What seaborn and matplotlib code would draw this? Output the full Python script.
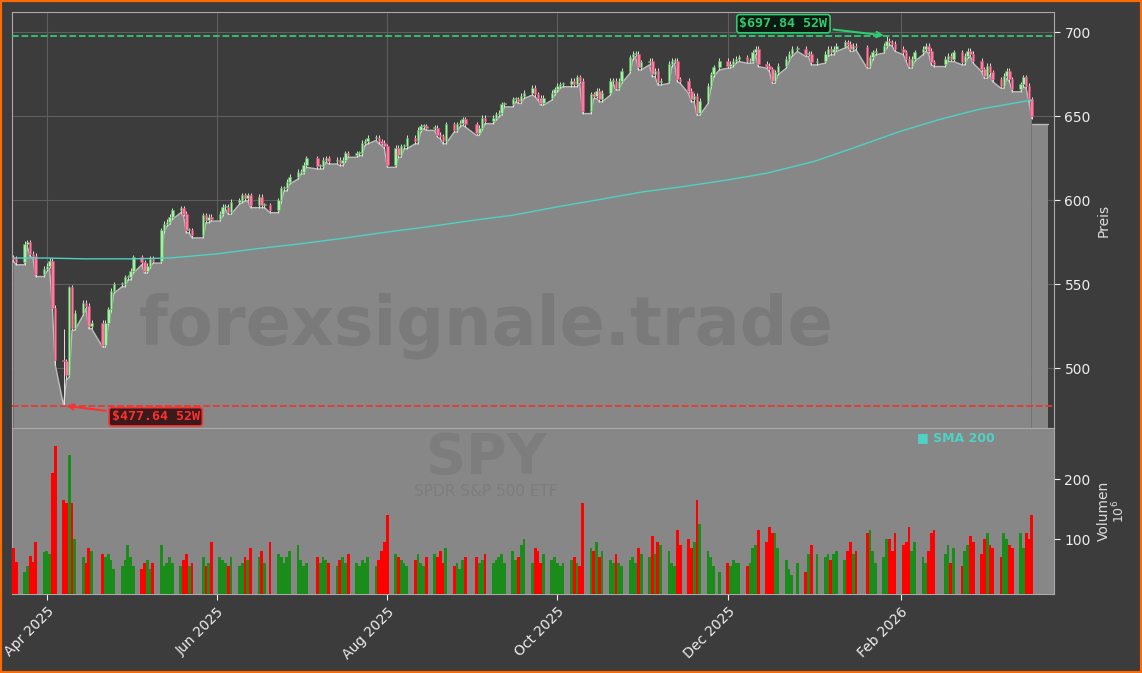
import numpy as np
import pandas as pd
import matplotlib
matplotlib.use("Agg")
import matplotlib.pyplot as plt
import matplotlib.dates as mdates
import seaborn as sns

# ---------------- data ----------------
holidays = ["2025-04-18", "2025-05-26", "2025-06-19", "2025-07-04", "2025-09-01",
            "2025-11-27", "2025-12-25", "2026-01-01", "2026-01-19", "2026-02-16"]
closes = [
    565, 563, 574, 575, 568, 567, 556, 559,
    561, 564, 536, 505, 504, 496, 548, 524, 533, 539, 537, 525, 527, 514, 527, 535, 546, 550, 550, 554, 554,
    558, 566, 563, 558, 561, 565, 564, 582, 586, 587, 590, 594, 595, 592, 582, 582, 579, 591, 588, 590, 589,
    592, 596, 596, 593, 599, 600, 603, 601, 603, 597, 602, 597, 597, 594, 600, 607, 607, 611, 614, 617,
    617, 621, 625, 620, 620, 624, 625, 623, 624, 622, 624, 628, 627, 628, 628, 634, 635, 637, 637, 635, 634, 632,
    621, 631, 627, 632, 632, 637, 635, 642, 644, 644, 643, 643, 639, 638, 635, 645, 642, 645, 646, 648, 645,
    640, 643, 649, 647, 649, 651, 652, 657, 657, 660, 660, 659, 662, 664, 667, 663, 661, 658, 661, 664, 666,
    668, 669, 669, 671, 669, 673, 671, 653, 663, 662, 665, 660, 664, 671, 671, 667, 671, 677, 685, 687, 687, 679, 682,
    683, 675, 677, 670, 671, 681, 683, 683, 672, 671, 665, 660, 662, 652, 659, 668, 675, 679, 683,
    680, 681, 683, 684, 685, 683, 683, 688, 690, 681, 680, 678, 671, 676, 680, 684, 687, 690, 690, 687, 687, 682,
    683, 687, 690, 688, 690, 692, 694, 693, 690, 692, 691, 680, 685, 688, 689, 692, 695, 694, 693, 690,
    688, 684, 680, 684, 688, 690, 692, 689, 682, 681, 684, 686, 684, 688, 682, 686, 689, 687, 683,
    678, 674, 680, 676, 672, 668, 674, 677, 672, 666, 669, 673, 668, 660, 650,
]
volumes = [
    85, 62, 45, 55, 72, 62, 95, 78,
    80, 75, 210, 255, 165, 160, 240, 160, 100, 70, 60, 85, 80, 75, 70, 75, 65, 50, 55, 65, 90,
    70, 55, 50, 60, 65, 50, 60, 90, 55, 60, 70, 60, 55, 65, 75, 55, 60, 70, 55, 60, 95,
    70, 65, 60, 55, 70, 55, 60, 70, 65, 85, 70, 80, 60, 95, 75, 70, 60, 70, 80, 90,
    65, 55, 60, 70, 60, 70, 65, 60, 55, 65, 70, 60, 75, 60, 55, 65, 60, 70, 55, 65, 80, 95,
    140, 75, 70, 65, 60, 55, 65, 75, 60, 55, 70, 75, 70, 80, 60, 85, 55, 60, 50, 65, 70,
    70, 60, 65, 75, 60, 65, 70, 75, 60, 80, 65, 70, 90, 100, 60, 85, 80, 60, 75, 65, 70,
    60, 55, 60, 65, 70, 60, 55, 160, 85, 80, 95, 70, 80, 65, 60, 75, 60, 55, 65, 70, 60, 85, 75,
    70, 105, 75, 95, 90, 80, 60, 55, 115, 90, 100, 85, 95, 165, 125, 80, 70, 55, 45,
    60, 55, 65, 60, 60, 55, 60, 85, 90, 115, 95, 120, 110, 110, 85, 65, 50, 40, 60, 45, 75, 90,
    75, 70, 75, 65, 75, 80, 65, 80, 95, 75, 80, 110, 115, 80, 60, 70, 100, 100, 80, 110,
    90, 95, 120, 80, 95, 70, 60, 80, 110, 115, 75, 90, 60, 85, 55, 80, 90, 105, 95,
    75, 100, 110, 90, 85, 70, 110, 100, 90, 85, 110, 85, 110, 100, 140,
]
first_open = 566
extreme_lows = {"2025-04-07": 477.64, "2025-04-04": 502, "2025-04-08": 493}
extreme_highs = {"2026-01-27": 697.84, "2025-04-09": 549, "2025-04-07": 523}
sma_dates = ["2025-03-20", "2025-04-01", "2025-04-15", "2025-05-01", "2025-05-15", "2025-06-01",
             "2025-06-15", "2025-07-01", "2025-07-15", "2025-08-01", "2025-08-15", "2025-09-01",
             "2025-09-15", "2025-10-01", "2025-10-15", "2025-11-01", "2025-11-15", "2025-12-01",
             "2025-12-15", "2026-01-01", "2026-01-15", "2026-02-01", "2026-02-15", "2026-03-01",
             "2026-03-20"]
sma_vals = [565.5, 565.5, 565, 565, 565.5, 568, 571, 574, 577, 581, 584, 588, 591, 596, 600,
            605, 608, 612, 616, 623, 631, 641, 648, 654, 659.5]
tail_dates = ["2026-03-20", "2026-03-26"]
tail_value = 645
high_52w = 697.84
low_52w = 477.64

# ---------------- prep ----------------
dates = pd.bdate_range("2025-03-20", "2026-03-20")
dates = dates[~dates.isin(pd.to_datetime(holidays))]
assert len(dates) == len(closes) == len(volumes), (len(dates), len(closes), len(volumes))
c = np.array(closes, float)
o = np.concatenate([[first_open], c[:-1]])
hi = np.maximum(o, c) + 1.5
lo = np.minimum(o, c) - 1.5
for d, v in extreme_lows.items():
    lo[dates.get_loc(pd.Timestamp(d))] = v
for d, v in extreme_highs.items():
    hi[dates.get_loc(pd.Timestamp(d))] = v
up = c >= o
df = pd.DataFrame({"date": dates, "low": lo})
sma = pd.DataFrame({"date": pd.to_datetime(sma_dates), "sma": sma_vals})

# ---------------- plot ----------------
sns.set_style("dark")
plt.rcParams["font.family"] = ["DejaVu Sans"]
BG = "#3c3c3c"
fig = plt.figure(figsize=(11.42, 6.73), dpi=100, facecolor=BG)
fig.patches.append(plt.Rectangle((0, 0), 1, 1, transform=fig.transFigure, fill=False,
                                 edgecolor="#ff6a00", linewidth=3))
ax = fig.add_axes([0.0105, 0.364, 0.9125, 0.618])
axv = fig.add_axes([0.0105, 0.117, 0.9125, 0.247], sharex=ax)

ax.set_facecolor(BG)
ax.grid(True, color="#5e5e5e", linewidth=0.8)
ax.set_axisbelow(True)
ax.fill_between(df["date"], lo, 0, color="#878787", lw=0, zorder=1)
ax.fill_between(pd.to_datetime(tail_dates), tail_value, 0, color="#878787", lw=0, zorder=1)
ax.plot(pd.to_datetime(tail_dates), [tail_value] * 2, color="#bbbbbb", lw=1, zorder=1)
sns.lineplot(data=df, x="date", y="low", ax=ax, color="#bdbdbd", lw=1, zorder=2)
ax.vlines(dates, lo, hi, color="#e0e0e0", lw=0.7, zorder=3)
body_h = np.maximum(np.abs(c - o), 0.6)
ax.bar(dates, body_h, bottom=np.minimum(o, c), width=0.9,
       color=np.where(up, "#a6f0a6", "#ff7aa0"), edgecolor=np.where(up, "#55aa55", "#d04a70"),
       linewidth=0.4, zorder=4)
sns.lineplot(data=sma, x="date", y="sma", ax=ax, color="#4fd1c5", lw=1, zorder=5)
ax.axhline(high_52w, color="#2ecc71", ls="--", lw=1.3, zorder=5)
ax.axhline(low_52w, color="#e53935", ls="--", lw=1.3, zorder=5)
ax.annotate(f"${high_52w:.2f} 52W", xy=(pd.Timestamp("2026-01-27"), high_52w),
            xytext=(pd.Timestamp("2025-12-21"), 705), color="#2ecc71", fontsize=9.5,
            fontweight="bold", family="DejaVu Sans Mono", ha="center", va="center",
            bbox=dict(boxstyle="round,pad=0.2", fc="#0b1a10", ec="#2ecc71", lw=1.2),
            arrowprops=dict(arrowstyle="->", color="#2ecc71", lw=1.5), zorder=10)
ax.annotate(f"${low_52w:.2f} 52W", xy=(pd.Timestamp("2025-04-07"), low_52w),
            xytext=(pd.Timestamp("2025-05-10"), 471), color="#ff3030", fontsize=9.5,
            fontweight="bold", family="DejaVu Sans Mono", ha="center", va="center",
            bbox=dict(boxstyle="round,pad=0.2", fc="#3a1a1a", ec="#ff3030", lw=1.2),
            arrowprops=dict(arrowstyle="->", color="#ff3030", lw=1.5), zorder=10)
ax.text(0.455, 0.245, "forexsignale.trade", transform=ax.transAxes, fontsize=48,
        fontweight="bold", color="#7a7a7a", ha="center", va="center", zorder=2)

xmin, xmax = pd.Timestamp("2025-03-19 12:00"), pd.Timestamp("2026-03-28")
ax.set_xlim(xmin, xmax)
ax.set_ylim(464.3, 711.9)
ax.yaxis.tick_right()
ax.yaxis.set_label_position("right")
ax.set_yticks([500, 550, 600, 650, 700])
ax.set_ylabel("Preis", color="#dddddd", fontsize=10)
ax.set_xlabel("")
ax.tick_params(axis="y", colors="#eeeeee", labelsize=10, length=4, right=True)
ax.tick_params(axis="x", labelbottom=False, length=0)
for s in ax.spines.values():
    s.set_color("#aaaaaa")

axv.set_facecolor("#878787")
axv.bar(dates, volumes, width=1.0, color=np.where(up, "#1a8c1a", "#ff0000"), linewidth=0, zorder=3)
axv.text(0.455, 0.82, "SPY", transform=axv.transAxes, fontsize=40, fontweight="bold",
         color="#7d7d7d", ha="center", va="center", zorder=1)
axv.text(0.455, 0.62, "SPDR S&P 500 ETF", transform=axv.transAxes, fontsize=11,
         color="#7d7d7d", ha="center", va="center", zorder=1)
axv.text(0.868, 0.945, "■ SMA 200", transform=axv.transAxes, fontsize=9, fontweight="bold",
         color="#4fd1c5", ha="left", va="center")
axv.set_ylim(8.3, 285)
axv.yaxis.tick_right()
axv.yaxis.set_label_position("right")
axv.set_yticks([100, 200])
axv.set_ylabel("Volumen", color="#dddddd", fontsize=10)
axv.text(1.062, 0.5, "10$^{6}$", transform=axv.transAxes, rotation=90, color="#dddddd",
         fontsize=9, ha="center", va="center")
axv.tick_params(axis="y", colors="#eeeeee", labelsize=10, length=4, right=True)
axv.xaxis.set_major_locator(mdates.MonthLocator(bymonth=[4, 6, 8, 10, 12, 2]))
axv.xaxis.set_major_formatter(mdates.DateFormatter("%b %Y"))
axv.tick_params(axis="x", colors="#eeeeee", labelsize=10, length=4, bottom=True)
plt.setp(axv.get_xticklabels(), rotation=45, ha="right", rotation_mode="anchor")
axv.set_xlabel("")
axv.grid(False)
for s in axv.spines.values():
    s.set_color("#aaaaaa")

fig.savefig("out.png", dpi=100, facecolor=BG)
